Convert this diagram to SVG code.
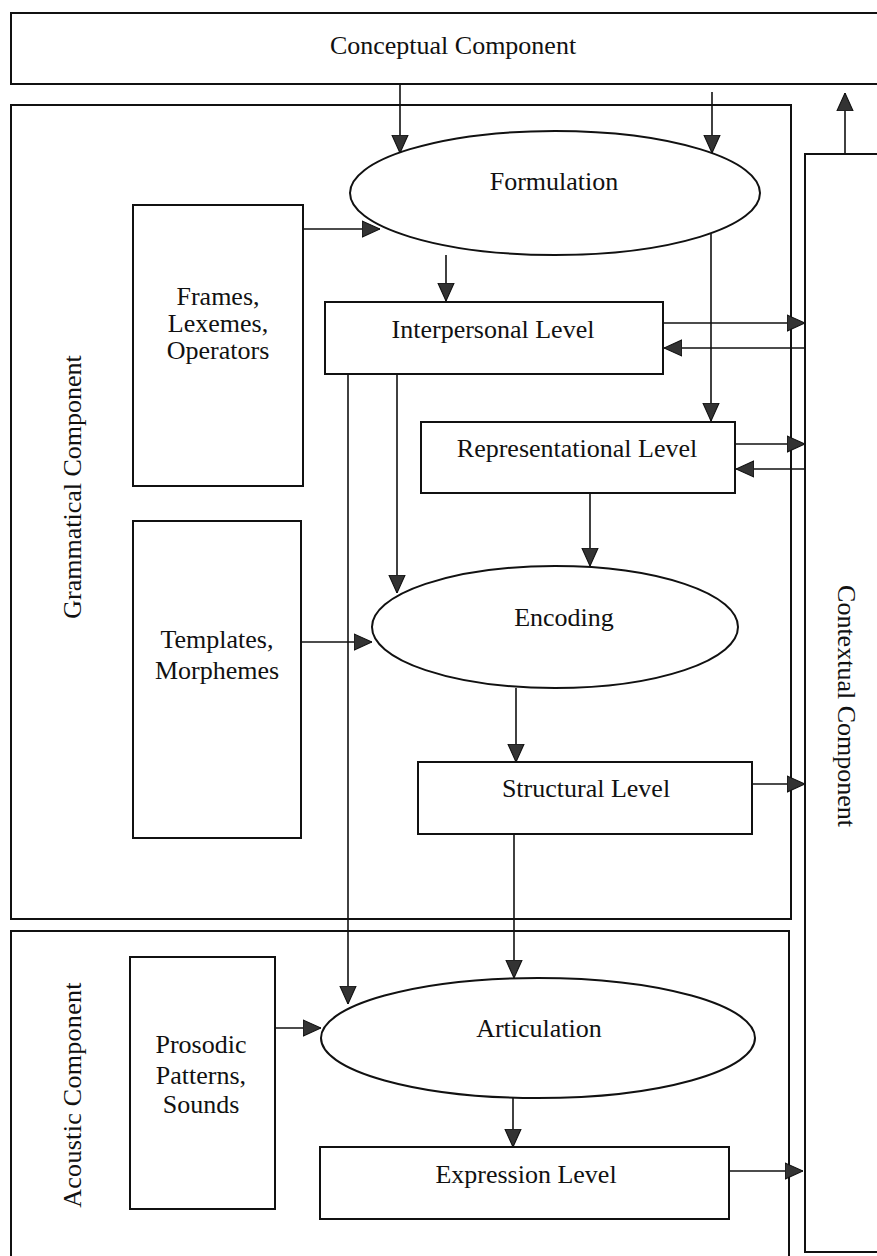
<svg xmlns="http://www.w3.org/2000/svg" width="877" height="1256" viewBox="0 0 877 1256">
<style>
.box{fill:none;stroke:#111;stroke-width:2}
.node{fill:#fff;stroke:#111;stroke-width:2}
.ln{fill:none;stroke:#111;stroke-width:1.6}
text{font-family:"Liberation Serif","Times New Roman",serif;font-size:26px;fill:#111;text-anchor:middle}
</style>
<defs>
<marker id="ah" viewBox="0 0 10 10" refX="10" refY="5" markerWidth="18" markerHeight="18" markerUnits="userSpaceOnUse" orient="auto">
<path d="M0,0.5 L10,5 L0,9.5 Z" fill="#333" stroke="#111" stroke-width="0.6"/>
</marker>
</defs>
<rect width="877" height="1256" fill="#fff"/>

<g id="conceptual"><rect class="box" x="11" y="13" width="880" height="71"/><text x="453" y="54">Conceptual Component</text></g>
<g id="grammatical"><rect class="box" x="11" y="105" width="780" height="814"/><text transform="translate(81,487) rotate(-90)">Grammatical Component</text></g>
<g id="acoustic"><rect class="box" x="11" y="931" width="778" height="340"/><text transform="translate(81,1095) rotate(-90)" letter-spacing="0.3">Acoustic Component</text></g>
<g id="contextual"><rect class="box" x="805" y="154" width="90" height="1098"/><text transform="translate(838,706) rotate(90)">Contextual Component</text></g>

<g id="frames"><rect class="node" x="133" y="205" width="170" height="281"/><text x="218"><tspan x="218" y="305">Frames,</tspan><tspan x="218" y="332">Lexemes,</tspan><tspan x="218" y="359">Operators</tspan></text></g>
<g id="templates"><rect class="node" x="133" y="521" width="168" height="317"/><text x="217"><tspan x="217" y="648">Templates,</tspan><tspan x="217" y="679">Morphemes</tspan></text></g>
<g id="prosodic"><rect class="node" x="130" y="957" width="145" height="252"/><text x="201"><tspan x="201" y="1053">Prosodic</tspan><tspan x="201" y="1084">Patterns,</tspan><tspan x="201" y="1113">Sounds</tspan></text></g>

<g id="formulation"><ellipse class="node" cx="555" cy="193" rx="205" ry="62"/><text x="554" y="190">Formulation</text></g>
<g id="interpersonal"><rect class="node" x="325" y="302" width="338" height="72"/><text x="493" y="338">Interpersonal Level</text></g>
<g id="representational"><rect class="node" x="421" y="422" width="314" height="71"/><text x="577" y="457">Representational Level</text></g>
<g id="encoding"><ellipse class="node" cx="555" cy="627" rx="183" ry="61"/><text x="564" y="626">Encoding</text></g>
<g id="structural"><rect class="node" x="418" y="762" width="334" height="72"/><text x="586" y="797">Structural Level</text></g>
<g id="articulation"><ellipse class="node" cx="538" cy="1038" rx="217" ry="60"/><text x="539" y="1037">Articulation</text></g>
<g id="expression"><rect class="node" x="320" y="1147" width="409" height="72"/><text x="526" y="1183">Expression Level</text></g>

<g id="connectors" class="ln" marker-end="url(#ah)">
<line x1="400" y1="84" x2="400" y2="153"/>
<line x1="712" y1="92" x2="712" y2="153"/>
<line x1="303" y1="229" x2="380" y2="229"/>
<line x1="446" y1="255" x2="446" y2="301"/>
<line x1="711" y1="234" x2="711" y2="421"/>
<line x1="663" y1="323" x2="805" y2="323"/>
<line x1="805" y1="348" x2="664" y2="348"/>
<line x1="735" y1="444" x2="805" y2="444"/>
<line x1="805" y1="469" x2="736" y2="469"/>
<line x1="397" y1="374" x2="397" y2="593"/>
<line x1="348" y1="374" x2="348" y2="1004"/>
<line x1="590" y1="493" x2="590" y2="566"/>
<line x1="301" y1="642" x2="372" y2="642"/>
<line x1="516" y1="688" x2="516" y2="762"/>
<line x1="752" y1="784" x2="805" y2="784"/>
<line x1="514" y1="834" x2="514" y2="978"/>
<line x1="275" y1="1028" x2="321" y2="1028"/>
<line x1="513" y1="1098" x2="513" y2="1147"/>
<line x1="729" y1="1171" x2="803" y2="1171"/>
<line x1="845" y1="154" x2="845" y2="93"/>
</g>
</svg>
